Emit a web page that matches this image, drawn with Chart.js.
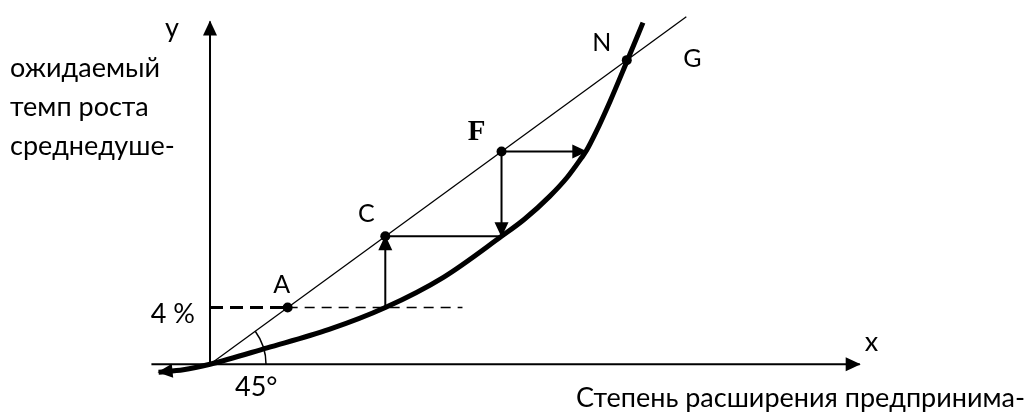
<!DOCTYPE html>
<html>
<head>
<meta charset="utf-8">
<script src="https://cdn.jsdelivr.net/npm/chart.js@4.4.1/dist/chart.umd.min.js"></script>
<style>
  html, body { margin: 0; padding: 0; background: #fff; }
  #wrap { width: 1030px; height: 419px; }
</style>
</head>
<body>
<div id="wrap"><canvas id="myChart" width="1030" height="419"></canvas></div>
<script>
// Кривая (толстая линия), единицы: биссектриса y = x
const curveX = [-10.8, -5.6, 0, 12, 25, 36.8, 49, 61.2, 66, 71.3, 75, 78, 79, 81, 84, 87.3, 90.9];
const curveY = [-2.3, -1.6, 0, 4.7, 10.0, 16.3, 25.0, 36.8, 41.7, 48.3, 53.8, 59.4, 61.4, 66.7, 75.7, 86.4, 98.3];

// Биссектриса (45°)
const diagX = [0, 100];
const diagY = [0, 100];

// Точки на биссектрисе
const pointNames = ['A', 'C', 'F', 'N'];
const pointX = [16.3, 36.8, 61.2, 87.5];
const pointY = [16.3, 36.8, 61.2, 87.5];

// Уровень 4 % и конец стрелки от F вправо
const levelY = 16.3;
const levelEndX = 53;
const arrowEndX = 79;

// Оси
const xAxisX = [-12.3, 136.4];
const yAxisTop = 98.6;

const FONT = 'Lato, "Open Sans", sans-serif';

function seg(xs, ys) {
  return xs.map((v, i) => ({ x: v, y: ys[i] }));
}

const datasets = [
  // оси
  { data: seg(xAxisX, [0, 0]), borderWidth: 2, arrow: 'end' },
  { data: seg([0, 0], [0, yAxisTop]), borderWidth: 2, arrow: 'end' },
  // биссектриса
  { data: seg(diagX, diagY), borderWidth: 1.3 },
  // 4 % пунктир: от оси до A толще, дальше тоньше
  { data: seg([0, pointX[0]], [levelY, levelY]), borderWidth: 3, borderDash: [13, 7] },
  { data: seg([pointX[0], levelEndX], [levelY, levelY]), borderWidth: 1.4, borderDash: [10, 7] },
  // шаги паутины
  { data: seg([pointX[1], pointX[1]], [levelY, pointY[1]]), borderWidth: 2, arrow: 'end' },
  { data: seg([pointX[1], pointX[2]], [pointY[1], pointY[1]]), borderWidth: 2 },
  { data: seg([pointX[2], pointX[2]], [pointY[2], pointY[1]]), borderWidth: 2, arrow: 'end' },
  { data: seg([pointX[2], arrowEndX], [pointY[2], pointY[2]]), borderWidth: 2, arrow: 'end' },
  // кривая
  { data: seg(curveX, curveY), borderWidth: 5, cubicInterpolationMode: 'monotone', arrow: 'start' },
  // точки
  { data: seg(pointX, pointY), showLine: false, pointRadius: 5, pointBackgroundColor: '#000', pointBorderWidth: 0 }
].map(d => Object.assign({
  showLine: true, pointRadius: 0, borderColor: '#000', backgroundColor: '#000', fill: false, clip: false, tension: 0
}, d));

const arrowPlugin = {
  id: 'arrows',
  afterDatasetsDraw(chart) {
    const ctx = chart.ctx;
    chart.data.datasets.forEach((ds, i) => {
      if (!ds.arrow) return;
      const pts = chart.getDatasetMeta(i).data;
      let tip, from;
      if (ds.arrow === 'end') { tip = pts[pts.length - 1]; from = pts[pts.length - 2]; }
      else { tip = pts[0]; from = pts[1]; }
      const dx = tip.x - from.x, dy = tip.y - from.y;
      const len = Math.hypot(dx, dy);
      const ux = dx / len, uy = dy / len;
      const L = 15, W = 14;
      const tx = tip.x + ux * 1, ty = tip.y + uy * 1;
      const bx = tx - ux * L, by = ty - uy * L;
      ctx.save();
      ctx.fillStyle = '#000';
      ctx.beginPath();
      ctx.moveTo(tx, ty);
      ctx.lineTo(bx - uy * W / 2, by + ux * W / 2);
      ctx.lineTo(bx + uy * W / 2, by - ux * W / 2);
      ctx.closePath();
      ctx.fill();
      ctx.restore();
    });
  }
};

const textPlugin = {
  id: 'texts',
  afterDraw(chart) {
    const ctx = chart.ctx;
    const sx = chart.scales.x, sy = chart.scales.y;
    const px = v => sx.getPixelForValue(v);
    const py = v => sy.getPixelForValue(v);
    ctx.save();
    ctx.fillStyle = '#000';
    ctx.textBaseline = 'alphabetic';

    // дуга угла 45°
    const ox = px(0), oy = py(0);
    const ang = Math.atan2(py(diagY[1]) - oy, px(diagX[1]) - ox);
    ctx.strokeStyle = '#000';
    ctx.lineWidth = 1.5;
    ctx.beginPath();
    ctx.arc(ox, oy, 56, ang, 0);
    ctx.stroke();

    // подписи точек
    ctx.font = '25px ' + FONT;
    ctx.textAlign = 'center';
    ctx.fillText('A', px(pointX[0]) - 6, py(pointY[0]) - 15);
    ctx.fillText('C', px(pointX[1]) - 19, py(pointY[1]) - 14);
    ctx.fillText('N', px(pointX[3]) - 25, py(pointY[3]) - 9);
    ctx.fillText('G', px(diagX[1]) + 6, py(diagY[1]) + 50);
    ctx.font = 'bold 29px "Liberation Serif", "Times New Roman", serif';
    ctx.fillText('F', px(pointX[2]) - 25, py(pointY[2]) - 12);

    // оси и подписи
    ctx.font = '27px ' + FONT;
    ctx.textAlign = 'left';
    ctx.fillText('y', px(0) - 45, py(yAxisTop) + 15);
    ctx.fillText('x', px(xAxisX[1]) + 5, py(0) - 13);
    ctx.fillText('45°', ox + 25, oy + 32);
    ctx.textAlign = 'right';
    ctx.fillText('4 %', px(0) - 15, py(levelY) + 15);

    ctx.textAlign = 'left';
    ctx.fillText('ожидаемый', 10, 77);
    ctx.fillText('темп роста', 10, 116);
    ctx.fillText('среднедуше-', 10, 155);
    ctx.textAlign = 'right';
    ctx.fillText('Степень расширения предпринима-', 1025, 407);
    ctx.restore();
  }
};

const ctx = document.getElementById('myChart').getContext('2d');
new Chart(ctx, {
  type: 'scatter',
  data: { datasets: datasets },
  options: {
    responsive: false,
    animation: false,
    devicePixelRatio: 1,
    layout: { padding: 0 },
    plugins: { legend: { display: false }, tooltip: { enabled: false } },
    scales: {
      x: { type: 'linear', min: -43.04, max: 171.1, display: false },
      y: { type: 'linear', min: -14.33, max: 103.37, display: false }
    }
  },
  plugins: [arrowPlugin, textPlugin]
});
</script>
</body>
</html>
